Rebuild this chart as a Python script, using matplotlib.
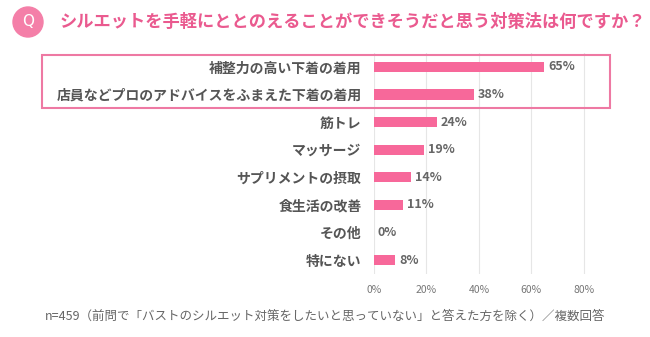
import matplotlib.pyplot as plt
from matplotlib.patches import Rectangle, Ellipse

plt.rcParams['font.family'] = ['Noto Sans CJK JP', 'DejaVu Sans']

# data
categories = ['補整力の高い下着の着用', '店員などプロのアドバイスをふまえた下着の着用', '筋トレ',
              'マッサージ', 'サプリメントの摂取', '食生活の改善', 'その他', '特にない']
values = [65, 38, 24, 19, 14, 11, 0, 8]
xticks = [0, 20, 40, 60, 80]
xtick_labels = ['0%', '20%', '40%', '60%', '80%']

title = 'シルエットを手軽にととのえることができそうだと思う対策法は何ですか？'
note = 'n=459（前問で「バストのシルエット対策をしたいと思っていない」と答えた方を除く）／複数回答'

pink = '#f7689a'
title_pink = '#ea5a8f'
gray = '#666666'

W, H = 650, 337
fig = plt.figure(figsize=(W / 100, H / 100), dpi=100)

# axes: 0% at x=374, 80% at x=584, rows from y=67 to y=260
ax = fig.add_axes([374 / W, 1 - 274 / H, (610 - 374) / W, (274 - 53) / H])
ypos = list(range(len(categories)))
ax.barh(ypos, values, height=0.37, color=pink, zorder=3)
ax.set_xlim(0, 90)
ax.set_ylim(len(categories) - 0.5, -0.5)
ax.set_yticks(ypos)
ax.set_yticklabels(categories, fontsize=10, color='#555555', fontweight='bold')
ax.set_xticks(xticks)
ax.set_xticklabels(xtick_labels, fontsize=7.5, color='#777777')
ax.tick_params(length=0, pad=9)
ax.tick_params(axis='x', pad=8)
ax.grid(axis='x', color='#e6e6e6', linewidth=0.8, zorder=0)
for s in ax.spines.values():
    s.set_visible(False)

for y, v in zip(ypos, values):
    ax.text(v + 1.5, y, f'{v}%', va='center', ha='left', fontsize=9,
            color=gray, fontweight='bold')

# highlight box round the first two rows
fig.patches.append(Rectangle((42 / W, 1 - 108 / H), (610 - 42) / W, 53 / H,
                             transform=fig.transFigure, fill=False,
                             edgecolor='#ee79a3', linewidth=1.5))

# title with Q badge
badge = Ellipse((28 / W, 1 - 22 / H), 30 / W, 30 / H, transform=fig.transFigure,
                color='#f47fa8')
fig.patches.append(badge)
fig.text(28 / W, 1 - 22 / H, 'Q', ha='center', va='center', color='white',
         fontsize=11, family='DejaVu Sans')
fig.text(60 / W, 1 - 22 / H, title, ha='left', va='center', color=title_pink,
         fontsize=12.4, fontweight='bold')

fig.text(45 / W, 1 - 316 / H, note, ha='left', va='center', color=gray,
         fontsize=9)

fig.savefig('out.png', dpi=100)
